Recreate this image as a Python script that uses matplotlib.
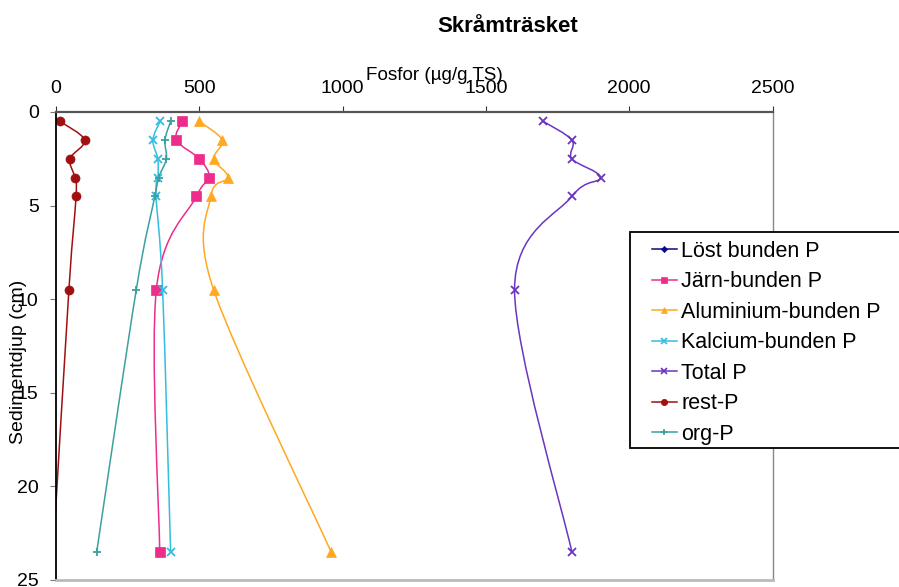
import numpy as np
import matplotlib
matplotlib.use("Agg")
import matplotlib.pyplot as plt
from matplotlib.path import Path
from matplotlib.patches import PathPatch, Rectangle
from matplotlib.lines import Line2D

plt.rcParams['font.family'] = ['Liberation Sans', 'DejaVu Sans']

# sedimentdjup (cm) och fosforfraktioner (ug/g TS)
djup = [0.5, 1.5, 2.5, 3.5, 4.5, 9.5, 23.5]
djup_lost = [0.5]
lost_p = [14]
jarn_p = [440, 420, 500, 535, 490, 350, 362]
alu_p = [500, 580, 550, 600, 540, 550, 960]
kalc_p = [363, 338, 355, 356, 349, 372, 400]
total_p = [1700, 1800, 1800, 1900, 1800, 1600, 1800]
rest_p = [14, 100, 49, 66, 70, 45, -10]
org_p = [400, 380, 385, 358, 345, 280, 142]

serier = [
    ('Löst bunden P', djup_lost, lost_p, '#0a0a80', 'D', 4.5),
    ('Järn-bunden P', djup, jarn_p, '#ee2c8c', 's', 6.5),
    ('Aluminium-bunden P', djup, alu_p, '#ffa820', '^', 7),
    ('Kalcium-bunden P', djup, kalc_p, '#33bde0', 'x', 5.5),
    ('Total P', djup, total_p, '#6a35c0', 'x', 5.5),
    ('rest-P', djup, rest_p, '#a01010', 'o', 6.5),
    ('org-P', djup, org_p, '#3aa0a0', '+', 5.5),
]


def utjamnad(xs, ys):
    # mjuk kurva (Catmull-Rom som Bezier) genom punkterna
    pts = np.column_stack([xs, ys]).astype(float)
    n = len(pts)
    verts = [pts[0]]
    codes = [Path.MOVETO]
    for i in range(n - 1):
        p0 = pts[i - 1] if i > 0 else pts[i]
        p1 = pts[i]
        p2 = pts[i + 1]
        p3 = pts[i + 2] if i + 2 < n else pts[i + 1]
        verts += [p1 + (p2 - p0) / 6, p2 - (p3 - p1) / 6, p2]
        codes += [Path.CURVE4] * 3
    return Path(verts, codes)


fig = plt.figure(figsize=(8.99, 5.87), dpi=100)
ax = fig.add_axes([56 / 899, 1 - 580 / 587, (772.5 - 56) / 899, (580 - 112) / 587])

handles = []
for namn, y, x, farg, mark, ms in serier:
    if len(x) > 1:
        ax.add_patch(PathPatch(utjamnad(x, y), fill=False, edgecolor=farg, lw=1.1))
    # punkter utanför axeln ritas inte
    ax.plot(np.ma.masked_less(x, 0), y, linestyle='none', marker=mark, color=farg, ms=ms,
            mew=1.3 if mark in 'x+' else 0.5)
    handles.append(Line2D([], [], color=farg, marker=mark, ms=ms * 0.7, lw=1.1,
                          mew=1.2 if mark in 'x+' else 0.5))

ax.set_xlim(0, 2500)
ax.set_ylim(25, 0)
ax.xaxis.tick_top()
ax.set_xticks(np.arange(0, 2501, 500))
ax.set_yticks(np.arange(0, 26, 5))
ax.tick_params(axis='x', direction='out', length=4, pad=7, labelsize=14, color='#333333')
ax.tick_params(axis='y', direction='out', length=4.5, pad=8, labelsize=14, color='#777777')

ax.spines['top'].set_color('#555555')
ax.spines['top'].set_linewidth(1.6)
ax.spines['right'].set_color('#888888')
ax.spines['right'].set_linewidth(1.0)
ax.spines['bottom'].set_color('#bbbbbb')
ax.spines['bottom'].set_linewidth(2.0)
ax.spines['left'].set_color('black')
ax.spines['left'].set_linewidth(1.3)

fig.text(508 / 899, 1 - 32 / 587, 'Skråmträsket', ha='center', va='baseline',
         fontsize=16, fontweight='bold')
fig.text(434 / 899, 1 - 80 / 587, 'Fosfor (µg/g TS)', ha='center', va='baseline',
         fontsize=13.6)
fig.text(19 / 899, 1 - 362 / 587, 'Sedimentdjup (cm)', ha='center', va='center',
         rotation=90, fontsize=14)

# legend med egen ram
fig.patches.append(Rectangle((630 / 899, 1 - 448 / 587), 280 / 899, 216 / 587,
                             transform=fig.transFigure, fill=True, facecolor='white',
                             edgecolor='black', lw=1.3, zorder=5))
leg = fig.legend(handles, [s[0] for s in serier], loc='upper left',
                 bbox_to_anchor=(652 / 899, 1 - 241 / 587), frameon=False,
                 fontsize=15.5, handlelength=1.15, handletextpad=0.2,
                 labelspacing=0.44, borderpad=0, borderaxespad=0)
leg.set_zorder(6)

fig.savefig('out.png', dpi=100)
